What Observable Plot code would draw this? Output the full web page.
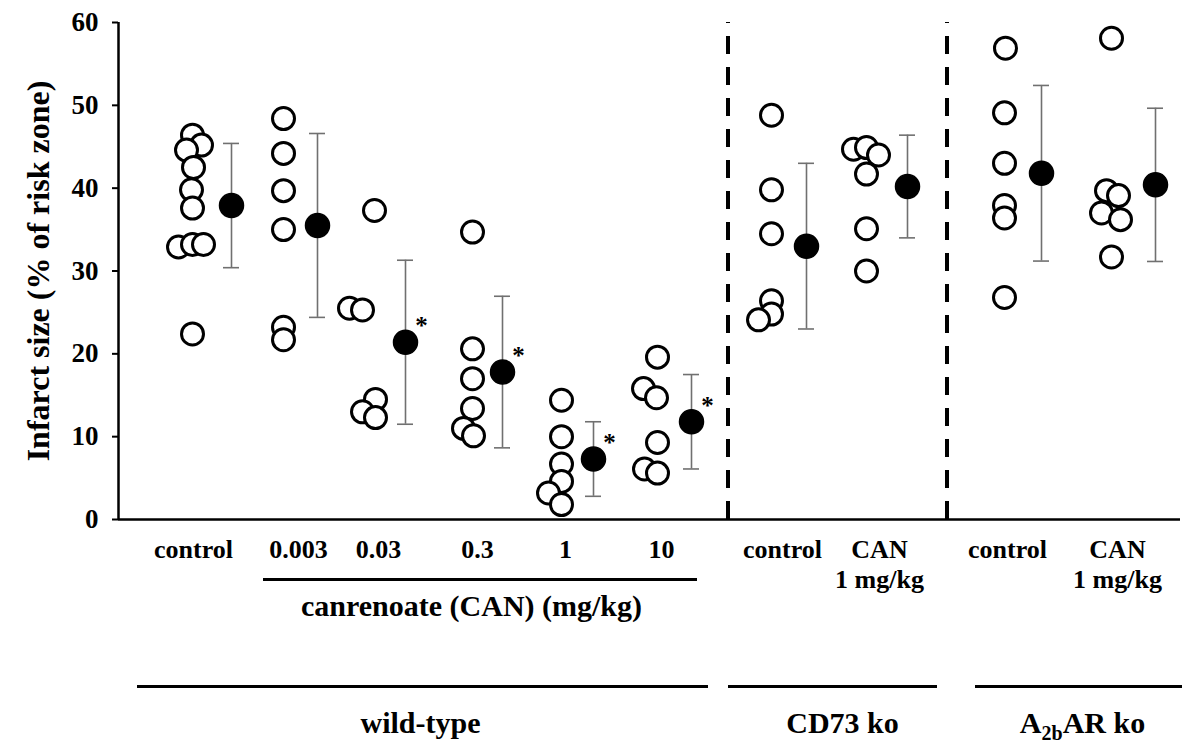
<!DOCTYPE html>
<html><head><meta charset="utf-8">
<script src="https://cdn.jsdelivr.net/npm/d3@7"></script>
<script src="https://cdn.jsdelivr.net/npm/@observablehq/plot@0.6"></script>
<style>
body{margin:0;background:#fff}
#chart svg{font-family:"Liberation Serif","Times New Roman",serif;font-weight:bold}
</style>
</head><body><div id="chart"></div>
<script>
// ---- data ----
const categories = ["control","0.003","0.03","0.3","1","10","control","CAN","control","CAN"];
const subLabels  = ["","","","","","","","1 mg/kg","","1 mg/kg"];
const catSlot    = [0.72,1.65,2.56,3.54,4.43,5.38,6.53,7.48,8.86,9.93];   // x of individual points
const meanSlot   = [1.13,1.99,2.87,3.84,4.75,5.73,6.88,7.89,9.23,10.37];  // x of mean ± SD
const labelSlot  = [0.75,1.80,2.60,3.59,4.47,5.43,6.64,7.61,8.89,9.99];   // x of tick labels
const individual = [
  [46.4,45.2,44.6,42.5,39.8,37.6,32.9,33.2,33.2,22.4],
  [48.4,44.2,39.7,35.0,23.2,21.7],
  [37.3,25.5,25.3,14.5,13.0,12.3],
  [34.7,20.6,17.0,13.4,11.0,10.1],
  [14.4,10.0,6.7,4.6,3.2,1.8],
  [19.6,15.8,14.7,9.3,6.1,5.6],
  [48.8,39.8,34.5,26.4,24.8,24.1],
  [44.7,44.9,44.0,41.7,35.1,30.0],
  [56.9,49.1,43.0,37.9,36.4,26.8],
  [58.1,39.7,39.1,37.0,36.2,31.7]
];
const jitter = [
  [0.02,0.11,-0.04,0.03,0.01,0.02,-0.12,0.02,0.13,0.02],
  [0,0,0,0,0,0],
  [0,-0.25,-0.12,0.01,-0.12,0.01],
  [0,0,0,0,-0.09,0.01],
  [0,0,0,0,-0.13,0],
  [0.01,-0.13,0,0.01,-0.12,0.01],
  [0,0,0,0,0,-0.13],
  [-0.13,0,0.12,0,0,0],
  [0.01,0,0,0,0,0],
  [0,-0.05,0.07,-0.10,0.09,0]
];
const means = [37.9,35.5,21.4,17.8,7.3,11.8,33.0,40.2,41.8,40.4];
const sds   = [7.5,11.1,9.9,9.15,4.5,5.7,10.0,6.2,10.6,9.25];
const significant = [false,false,true,true,true,true,false,false,false,false];
const yTicks = [0,10,20,30,40,50,60];
const separators = [6.095,8.285];
const genotypes = ["wild-type","CD73 ko","A2bAR ko"];
const genotypeStart = [0.19,6.10,8.57];
const genotypeEnd   = [5.90,8.19,10.64];
const genotypeLabel = [3.02,7.24,9.64];
const doseLabel = "canrenoate (CAN) (mg/kg)";
const doseSpan = [1.45,5.79];
const doseLabelSlot = 3.53;

// ---- tables ----
const points = individual.flatMap((vals,i)=>vals.map((v,j)=>({x:catSlot[i]+jitter[i][j], y:v})));
const summary = means.map((m,i)=>({x:meanSlot[i], m, lo:m-sds[i], hi:m+sds[i], sig:significant[i]}));
const labels = categories.map((c,i)=>({x:labelSlot[i], t:c, s:subLabels[i]}));
const geno = genotypes.map((g,i)=>({t:g, x1:genotypeStart[i], x2:genotypeEnd[i], x:genotypeLabel[i]}));

const capW = 0.08;
const FS = 26;
const ebColor = "#707070";

const chart = Plot.plot({
  width: 1182, height: 747,
  marginLeft: 118, marginRight: 2, marginTop: 22, marginBottom: 228,
  x: {type:"linear", domain:[0,10.62], axis:null},
  y: {type:"linear", domain:[0,60], axis:null},
  style: {fontFamily:'"Liberation Serif","Times New Roman",serif', fontWeight:"bold", fontSize:"26px", color:"#000", background:"#fff"},
  marks: [
    // y axis
    Plot.axisY({ticks:yTicks, tickSize:6, tickPadding:14, tickFormat:d=>d, fontSize:27, fontWeight:"bold", strokeWidth:2}),
    Plot.ruleX([0], {y1:0, y2:60, strokeWidth:2.5}),
    Plot.ruleY([0], {strokeWidth:2.5}),
    Plot.text(["Infarct size (% of risk zone)"], {frameAnchor:"left", textAnchor:"middle", rotate:-90, dx:-80, text:d=>d, fontSize:32, fontWeight:"bold"}),
    // separators
    Plot.ruleX(separators, {y1:0, y2:60, strokeWidth:4, strokeDasharray:"18,13"}),
    // individual points
    Plot.dot(points, {x:"x", y:"y", r:11, stroke:"#000", strokeWidth:3, fill:"#fff"}),
    // error bars
    Plot.ruleX(summary, {x:"x", y1:"lo", y2:"hi", stroke:ebColor, strokeWidth:1.6}),
    Plot.ruleY(summary, {y:"lo", x1:d=>d.x-capW, x2:d=>d.x+capW, stroke:ebColor, strokeWidth:1.6}),
    Plot.ruleY(summary, {y:"hi", x1:d=>d.x-capW, x2:d=>d.x+capW, stroke:ebColor, strokeWidth:1.6}),
    Plot.dot(summary, {x:"x", y:"m", r:12, fill:"#000", stroke:"#000"}),
    Plot.text(summary.filter(d=>d.sig), {x:"x", y:"m", text:()=>"*", dx:16, dy:-16, fontSize:25, fontWeight:"bold"}),
    // category labels
    Plot.text(labels, {x:"x", frameAnchor:"bottom", text:"t", lineAnchor:"bottom", dy:38, fontSize:FS}),
    Plot.text(labels.filter(d=>d.s), {x:"x", frameAnchor:"bottom", text:"s", lineAnchor:"bottom", dy:68, fontSize:FS}),
    Plot.ruleY([0], {x1:doseSpan[0], x2:doseSpan[1], dy:60, strokeWidth:3}),
    Plot.text([doseLabel], {x:doseLabelSlot, frameAnchor:"bottom", text:d=>d, lineAnchor:"bottom", dy:96, fontSize:30}),
    // genotype brackets
    Plot.ruleY(geno, {x1:"x1", x2:"x2", y:()=>0, dy:167, strokeWidth:3}),
    Plot.text(geno, {x:"x", frameAnchor:"bottom", text:"t", lineAnchor:"bottom", dy:213, fontSize:30})
  ]
});
document.getElementById("chart").appendChild(chart);
// subscript "2b" in A2bAR ko
d3.select(chart).selectAll("text").filter(function(){ return this.textContent === "A2bAR ko"; })
  .each(function(){
    const t = d3.select(this); t.text("");
    t.append("tspan").text("A");
    t.append("tspan").attr("dy", 7).attr("font-size", 20).text("2b");
    t.append("tspan").attr("dy", -7).text("AR ko");
  });
</script>
</body></html>
